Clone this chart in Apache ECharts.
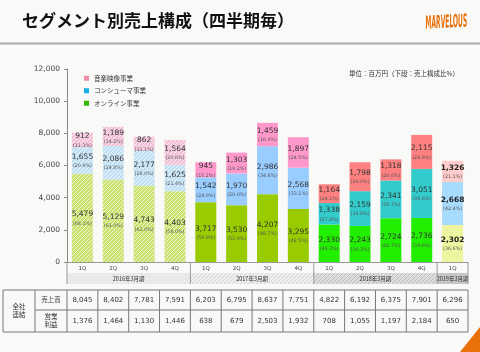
<!DOCTYPE html>
<html>
<head>
<meta charset="utf-8">
<script src="https://cdn.jsdelivr.net/npm/echarts@6/dist/echarts.min.js"></script>
<style>
    *{box-sizing: border-box;}
    body,html{margin:0;padding:0;width:100%;height:100%;background:#f9faf7;}
    #chart{width:480px;height:352px;}
</style>
</head>
<body>
<div id="chart"></div>
<script>
// 四半期
var quarters = ['1Q','2Q','3Q','4Q','1Q','2Q','3Q','4Q','1Q','2Q','3Q','4Q','1Q'];
var periods = ['2016年3月期','2017年3月期','2018年3月期','2019年3月期'];
var periodSizes = [4,4,4,1];

// 事業別売上（百万円）
var online   = [5479,5129,4743,4403,3717,3530,4207,3295,2330,2243,2724,2736,2302];
var consumer = [1655,2086,2177,1625,1542,1970,2986,2568,1338,2159,2341,3051,2668];
var music    = [912,1189,862,1564,945,1303,1459,1897,1164,1798,1318,2115,1326];

// 売上構成比(%)
var onlinePct   = [68.1,61.0,61.0,58.0,59.9,51.9,48.7,42.5,48.3,36.2,42.7,34.6,36.6];
var consumerPct = [20.6,24.8,28.0,21.4,24.9,29.0,34.6,33.1,27.8,34.8,36.7,38.6,42.4];
var musicPct    = [11.3,14.2,11.1,20.6,15.2,19.2,16.9,24.5,24.1,29.0,20.6,26.8,21.1];

// 全社連結
var sales  = [8045,8402,7781,7591,6203,6795,8637,7751,4822,6192,6375,7901,6296];
var profit = [1376,1464,1130,1446,638,679,2503,1932,708,1055,1197,2184,650];

var yTicks = [0,2000,4000,6000,8000,10000,12000];

function hatch(base, stripe){
    var c = document.createElement('canvas');
    c.width = 4; c.height = 4;
    var g = c.getContext('2d');
    g.fillStyle = base; g.fillRect(0,0,4,4);
    g.fillStyle = stripe;
    for(var i=0;i<4;i++){ g.fillRect(i,3-i,1,1); }
    return {image:c, repeat:'repeat'};
}

// 期ごとの色
var onlineColors   = [hatch('#cce270','#eef6d0'),'#99cc00','#22ee00','#eef5a0'];
var consumerColors = [hatch('#c2e0f4','#e8f3fb'),'#99ccff','#33cccc','#a8dcff'];
var musicColors    = [hatch('#f4c2d8','#fbe6ef'),'#ff99cc','#ff8080','#ffcccc'];

function periodOf(i){
    var s = 0;
    for(var p=0;p<periodSizes.length;p++){
        s += periodSizes[p];
        if(i < s) return p;
    }
    return periodSizes.length-1;
}

function fmt(n){ return n.toLocaleString('en-US'); }

function buildData(values, pcts, colors){
    return values.map(function(v,i){
        var p = periodOf(i);
        var bold = p === 3;
        return {
            value: v,
            itemStyle: {color: colors[p]},
            label: {
                formatter: (bold ? '{vb|' : '{v|') + fmt(v) + '}\n{p|(' + pcts[i].toFixed(1) + '%)}'
            }
        };
    });
}

var labelCfg = {
    show: true,
    position: 'inside',
    lineHeight: 10,
    rich: {
        v: {fontSize: 7.5, color: '#333', fontFamily: 'DejaVu Sans', lineHeight: 11},
        vb: {fontSize: 7.5, color: '#222', fontWeight: 'bold', fontFamily: 'DejaVu Sans', lineHeight: 11},
        p: {fontSize: 4.8, color: '#555', fontFamily: 'DejaVu Sans', lineHeight: 7}
    }
};

var chart = echarts.init(document.getElementById('chart'));
var jp = '"Noto Sans CJK JP", sans-serif';

chart.setOption({
    animation: false,
    backgroundColor: '#f9faf7',
    textStyle: {fontFamily: jp},
    grid: {left: 67, right: 12, top: 69, bottom: 90},
    legend: {
        orient: 'vertical',
        left: 79, top: 70,
        itemWidth: 5, itemHeight: 5, itemGap: 6,
        textStyle: {fontSize: 6.5, color: '#333', fontFamily: jp},
        data: [
            {name: '音楽映像事業', icon: 'rect', itemStyle: {color: '#f58aa8'}},
            {name: 'コンシューマ事業', icon: 'rect', itemStyle: {color: '#12aee8'}},
            {name: 'オンライン事業', icon: 'rect', itemStyle: {color: '#33bb00'}}
        ]
    },
    xAxis: {
        type: 'category',
        data: quarters,
        axisLine: {lineStyle: {color: '#999'}},
        axisTick: {length: 10, lineStyle: {color: '#999'}},
        axisLabel: {fontSize: 5.5, color: '#444', margin: 4, fontFamily: 'DejaVu Sans'}
    },
    yAxis: {
        type: 'value',
        min: yTicks[0], max: yTicks[yTicks.length-1], interval: 2000,
        splitLine: {show: false},
        axisLine: {show: true, lineStyle: {color: '#888'}},
        axisTick: {show: true, length: 3, lineStyle: {color: '#888'}},
        axisLabel: {fontSize: 7.5, color: '#444', margin: 7, fontFamily: 'DejaVu Sans',
            formatter: function(v){ return fmt(v); }}
    },
    series: [
        {name: 'オンライン事業', type: 'bar', stack: 'total', barWidth: 21,
         data: buildData(online, onlinePct, onlineColors), label: labelCfg},
        {name: 'コンシューマ事業', type: 'bar', stack: 'total', barWidth: 21,
         data: buildData(consumer, consumerPct, consumerColors), label: labelCfg},
        {name: '音楽映像事業', type: 'bar', stack: 'total', barWidth: 21,
         data: buildData(music, musicPct, musicColors), label: labelCfg}
    ]
});

// 軸の位置から帯と表を組み立てる
var x0 = chart.convertToPixel({xAxisIndex: 0}, 0);
var x1 = chart.convertToPixel({xAxisIndex: 0}, 1);
var step = x1 - x0;
var left = x0 - step/2;
var right = left + step*quarters.length;
var yZero = chart.convertToPixel({yAxisIndex: 0}, 0);

var bandTop = yZero + 11, bandBottom = yZero + 22;
var tTop = 290, tMid = 310, tBottom = 332;
var lineC = '#777';

var bandFills = [
    hatch('#ececec','#e0e0e0'),
    hatch('#eeeeee','#d4d4d4'),
    hatch('#dddddd','#bbbbbb'),
    '#c6c6c6'
];

var g = [];
// タイトル
g.push({type:'text', left: 22, top: 12, style:{text:'セグメント別売上構成（四半期毎）', fill:'#111', font:'bold 17px "Noto Sans CJK JP"'}});
g.push({type:'line', shape:{x1:0,y1:43.5,x2:480,y2:43.5}, style:{stroke:'#a9a9a9', lineWidth:2}});
// ロゴ
g.push({type:'text', x: 425, y: 15, scaleX: 0.5, scaleY: 1.5, rotation: 0.05,
    style:{text:'MARVELOUS', font:'italic bold 12px "DejaVu Sans"', fill:'#e8700a'}});
g.push({type:'polygon', shape:{points:[[480,327],[480,352],[460,352]]}, style:{fill:'#ea7008'}});
// 単位
g.push({type:'text', x: 349, y: 70, style:{text:'単位：百万円（下段：売上構成比%）', font:'6.5px "Noto Sans CJK JP"', fill:'#333'}});

// 期の帯
var start = 0;
var bounds = [left];
for(var p=0;p<periods.length;p++){
    var xs = left + start*step, xe = left + (start+periodSizes[p])*step;
    g.push({type:'rect', shape:{x:xs, y:bandTop, width:xe-xs, height:bandBottom-bandTop}, style:{fill:bandFills[p]}});
    g.push({type:'text', x:(xs+xe)/2, y:(bandTop+bandBottom)/2,
        style:{text:periods[p], font:'5.5px "Noto Sans CJK JP"', fill:'#333', align:'center', verticalAlign:'middle'}});
    start += periodSizes[p];
    bounds.push(xe);
}
bounds.forEach(function(bx){
    g.push({type:'line', shape:{x1:bx,y1:yZero,x2:bx,y2:bandBottom}, style:{stroke:'#999', lineWidth:1}});
});

// 表
g.push({type:'rect', shape:{x:3, y:tTop, width:right-3, height:tBottom-tTop}, style:{fill:'none', stroke:lineC, lineWidth:1}});
g.push({type:'line', shape:{x1:35,y1:tMid,x2:right,y2:tMid}, style:{stroke:lineC, lineWidth:1}});
g.push({type:'line', shape:{x1:35,y1:tTop,x2:35,y2:tBottom}, style:{stroke:lineC, lineWidth:1}});
for(var i=0;i<quarters.length;i++){
    var bx = left + i*step;
    g.push({type:'line', shape:{x1:bx,y1:tTop,x2:bx,y2:tBottom}, style:{stroke:lineC, lineWidth:1}});
    var cx = bx + step/2;
    g.push({type:'text', x:cx, y:(tTop+tMid)/2, style:{text:fmt(sales[i]), font:'7px "DejaVu Sans"', fill:'#333', align:'center', verticalAlign:'middle'}});
    g.push({type:'text', x:cx, y:(tMid+tBottom)/2, style:{text:fmt(profit[i]), font:'7px "DejaVu Sans"', fill:'#333', align:'center', verticalAlign:'middle'}});
}
g.push({type:'text', x:19, y:(tTop+tBottom)/2, style:{text:'全社\n連結', font:'6.5px "Noto Sans CJK JP"', lineHeight:8, fill:'#333', align:'center', verticalAlign:'middle'}});
g.push({type:'text', x:51, y:(tTop+tMid)/2, style:{text:'売上高', font:'6.5px "Noto Sans CJK JP"', fill:'#333', align:'center', verticalAlign:'middle'}});
g.push({type:'text', x:51, y:(tMid+tBottom)/2, style:{text:'営業\n利益', font:'6.5px "Noto Sans CJK JP"', lineHeight:8, fill:'#333', align:'center', verticalAlign:'middle'}});

chart.setOption({graphic: g});
</script>
</body>
</html>
